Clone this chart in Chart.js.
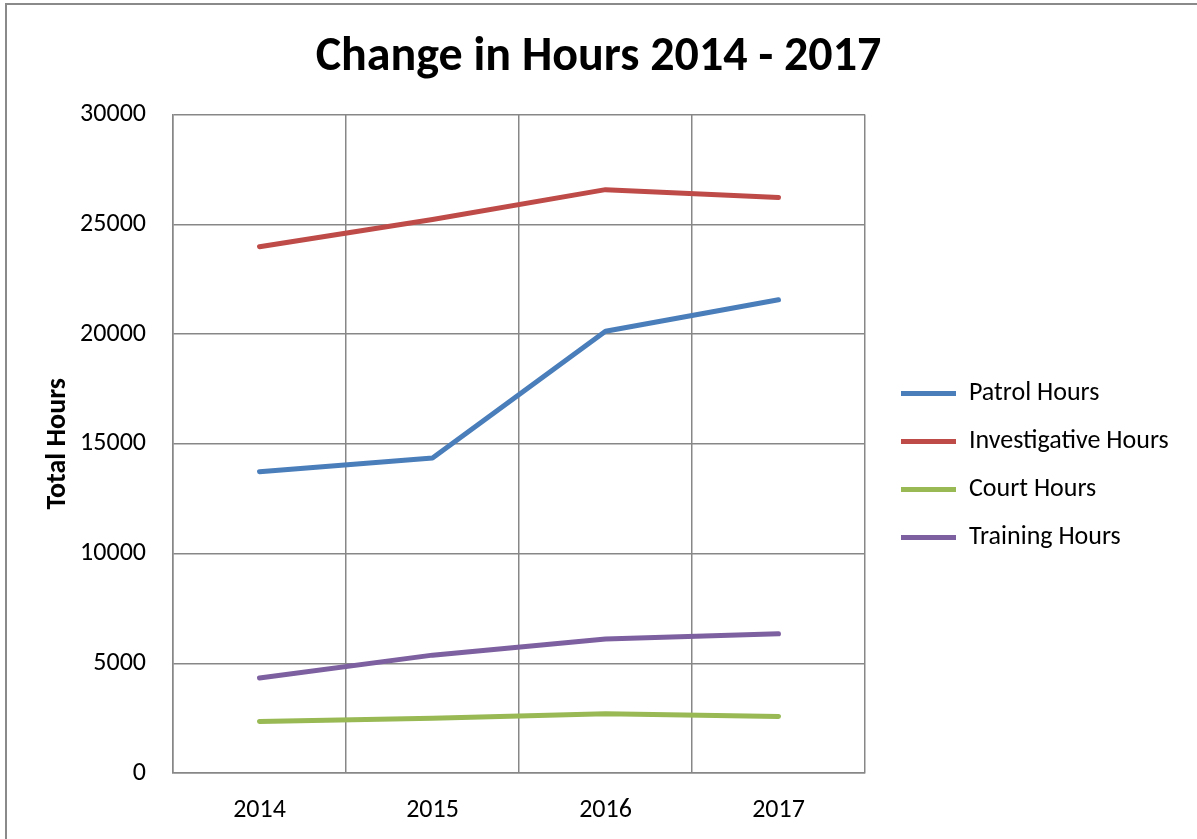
<!DOCTYPE html>
<html>
<head>
<meta charset="utf-8">
<script src="https://cdn.jsdelivr.net/npm/chart.js@4/dist/chart.umd.min.js"></script>
<style>
  html, body { margin: 0; padding: 0; background: #fff; }
  #wrap { position: relative; width: 1197px; height: 839px; overflow: hidden; }
  #frame { position: absolute; left: 5px; top: 3px; right: -10px; bottom: -10px;
           border-left: 2px solid #8a8a8a; border-top: 2px solid #8a8a8a; pointer-events: none; }
  canvas { position: absolute; left: 0; top: 0; }
</style>
</head>
<body>
<div id="wrap">
  <canvas id="c" width="1197" height="839"></canvas>
  <div id="frame"></div>
</div>
<script>
const categories = ['2014', '2015', '2016', '2017'];
const seriesNames = ['Patrol Hours', 'Investigative Hours', 'Court Hours', 'Training Hours'];
const patrolHours = [13730, 14350, 20130, 21560];
const investigativeHours = [23980, 25220, 26580, 26220];
const courtHours = [2350, 2490, 2700, 2580];
const trainingHours = [4330, 5370, 6110, 6340];
const seriesColors = ['#4A7EBB', '#BE4B48', '#98B954', '#7D60A0'];
const titleText = 'Change in Hours 2014 - 2017';
const yTitle = 'Total Hours';
const yMin = 0, yMax = 30000, yStep = 5000;

const FONT = "Carlito, Lato, 'Liberation Sans', sans-serif";
const GRID = '#878787';

const allSeries = [patrolHours, investigativeHours, courtHours, trainingHours];

const legendTweak = {
  id: 'legendTweak',
  beforeLayout(chart) {
    const lg = chart.legend;
    if (lg && !lg._fixedWidth) {
      const f = lg.fit.bind(lg);
      lg.fit = function () { f(); this.width = 332; };
      lg._fixedWidth = true;
    }
  },
  afterLayout(chart) {
    const lg = chart.legend;
    if (lg) { lg.left += 14; lg.right += 14; lg.top += 46; lg.bottom += 46; }
  }
};

new Chart(document.getElementById('c'), {
  type: 'line',
  data: {
    labels: categories,
    datasets: allSeries.map((d, i) => ({
      label: seriesNames[i],
      data: d,
      borderColor: seriesColors[i],
      backgroundColor: seriesColors[i],
      borderWidth: 5,
      borderCapStyle: 'round',
      borderJoinStyle: 'round',
      pointRadius: 0,
      pointHoverRadius: 0,
      tension: 0,
      fill: false
    }))
  },
  options: {
    responsive: false,
    animation: false,
    devicePixelRatio: 1,
    layout: { padding: { left: 0, right: 0, top: 0, bottom: 0 } },
    plugins: {
      title: {
        display: true,
        text: titleText,
        color: '#000',
        font: { family: FONT, size: 48, weight: 'bold', lineHeight: 1.2 },
        padding: { top: 29, bottom: 28 }
      },
      legend: {
        display: true,
        position: 'right',
        align: 'center',
        labels: {
          usePointStyle: true,
          pointStyle: 'line',
          pointStyleWidth: 55,
          boxWidth: 55,
          padding: 22,
          color: '#000',
          font: { family: FONT, size: 26 }
        }
      },
      tooltip: { enabled: false }
    },
    scales: {
      x: {
        type: 'category',
        offset: true,
        grid: { display: true, offset: true, color: GRID, lineWidth: 1.5, drawTicks: false },
        border: { display: true, color: GRID, width: 1.5 },
        ticks: { color: '#000', font: { family: FONT, size: 26 }, padding: 22, maxRotation: 0 },
        afterFit(scale) { scale.height = 66; }
      },
      y: {
        min: yMin,
        max: yMax,
        grid: { color: GRID, lineWidth: 1.5, drawTicks: false },
        border: { display: true, color: GRID, width: 1.5 },
        ticks: {
          stepSize: yStep, color: '#000', font: { family: FONT, size: 26 }, padding: 27,
          callback: (v) => String(v)
        },
        title: {
          display: true,
          text: yTitle,
          color: '#000',
          font: { family: FONT, size: 28, weight: 'bold', lineHeight: 1.2 },
          padding: { top: 41, bottom: 0 }
        },
        afterFit(scale) { scale.width = 173; }
      }
    }
  },
  plugins: [legendTweak]
});
</script>
</body>
</html>
